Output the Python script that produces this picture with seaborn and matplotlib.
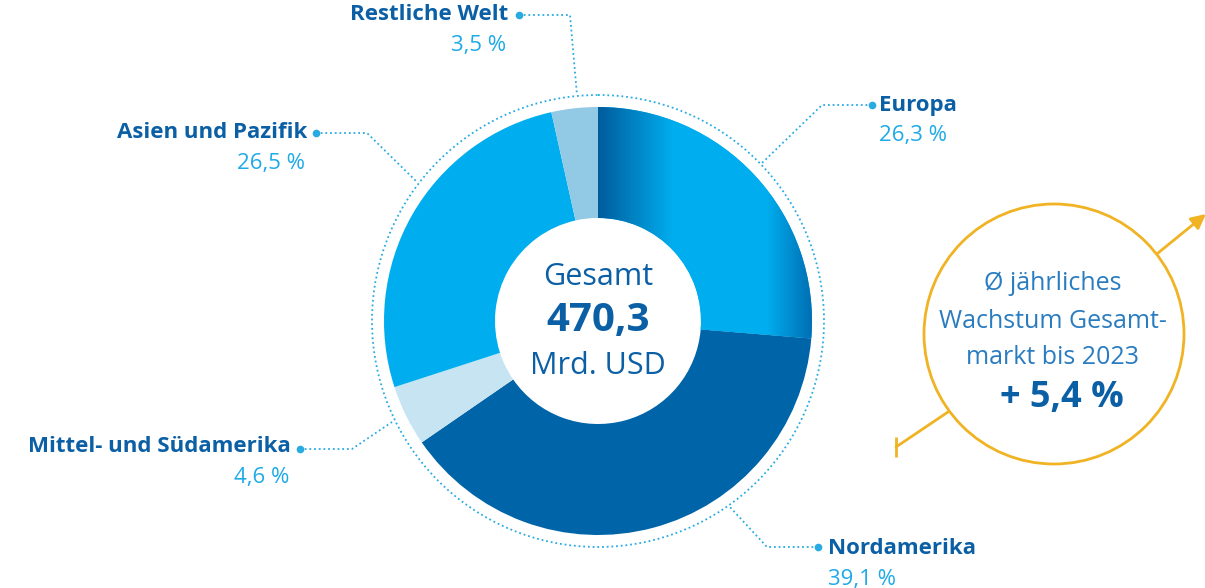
import numpy as np
import matplotlib.pyplot as plt
import seaborn as sns
from matplotlib.patches import Circle
from matplotlib.colors import LinearSegmentedColormap

# --- Daten ---
regions = ["Europa", "Nordamerika", "Mittel- und Südamerika", "Asien und Pazifik", "Restliche Welt"]
shares = [26.3, 39.1, 4.6, 26.5, 3.5]
slice_colors = ["#00aeef", "#0065a8", "#c7e4f2", "#00aeef", "#92c9e4"]
total_label = "470,3"
growth_label = "+ 5,4 %"

sns.set_theme(style="white")
plt.rcParams['font.family'] = ['Open Sans', 'DejaVu Sans']

dark = "#0b5fa5"
light = "#1eaae7"
gold = "#f0b323"

fig = plt.figure(figsize=(12.05, 5.88), dpi=100)
ax = fig.add_axes([0, 0, 1, 1])

cx, cy, r_out, r_in = 598, 321, 214, 103

# --- Donut (y-Achse invertiert -> counterclock=True läuft im Bild im Uhrzeigersinn) ---
wedges, _ = ax.pie(shares, colors=slice_colors, startangle=-90, counterclock=True,
                   center=(cx, cy), radius=r_out,
                   wedgeprops=dict(width=r_out - r_in, edgecolor='none', linewidth=0))

# Verlauf im Europa-Segment
cmap = LinearSegmentedColormap.from_list(
    "eu", [(0, "#005c9c"), (0.35, "#00aeef"), (0.78, "#00aeef"), (1, "#006db2")])
grad = np.linspace(0, 1, 256).reshape(1, -1)
im = ax.imshow(grad, extent=[cx, cx + r_out + 2, cy + 40, cy - r_out - 2],
               cmap=cmap, aspect='auto', zorder=wedges[0].get_zorder() + 0.1)
im.set_clip_path(wedges[0])

# gepunkteter Ring
ax.add_patch(Circle((cx, cy), 226, fill=False, ls=(0, (1, 1.6)), color="#29abe2", lw=1.3))

# --- Beschriftungen ---
leaders = {
    "Restliche Welt": [(519, 15), (570, 15), (577, 95)],
    "Europa": [(872, 105), (822, 105), (762, 163)],
    "Nordamerika": [(818, 547), (767, 547), (729, 506)],
    "Mittel- und Südamerika": [(300, 449), (352, 449), (392, 422)],
    "Asien und Pazifik": [(316, 133), (367, 133), (417, 182)],
}
label_pos = {
    "Restliche Welt": (508, 15, 'right'),
    "Europa": (879, 106, 'left'),
    "Nordamerika": (828, 549, 'left'),
    "Mittel- und Südamerika": (291, 447, 'right'),
    "Asien und Pazifik": (307, 133, 'right'),
}

for name, val in zip(regions, shares):
    pts = np.array(leaders[name])
    ax.plot(pts[:, 0], pts[:, 1], ls=(0, (1, 1.6)), color="#29abe2", lw=1.3)
    ax.plot(pts[0, 0], pts[0, 1], 'o', color="#29abe2", ms=4.5)
    x, y, ha = label_pos[name]
    ax.text(x, y, name, ha=ha, va='center', fontsize=16, fontweight='bold', color=dark)
    pct = f"{val:.1f}".replace('.', ',') + " %"
    ax.text(x - 2 if ha == 'right' else x, y + 30, pct, ha=ha, va='center',
            fontsize=16, color=light)

# Mitte
ax.text(cx, 277, "Gesamt", ha='center', va='center', fontsize=22, color=dark)
ax.text(cx, 320, total_label, ha='center', va='center', fontsize=29, fontweight='bold', color=dark)
ax.text(cx, 366, "Mrd. USD", ha='center', va='center', fontsize=22, color=dark)

# --- Wachstumskreis ---
ax.add_patch(Circle((1054, 334), 130, fill=False, color=gold, lw=2))
ax.plot([896, 948], [447, 412], color=gold, lw=2)
ax.plot([896], [447], marker='|', ms=14, mew=2, color=gold)
ax.annotate("", xy=(1206, 214), xytext=(1158, 253), annotation_clip=False,
            arrowprops=dict(arrowstyle='-|>', color=gold, lw=2, mutation_scale=22,
                            shrinkA=0, shrinkB=0))
ax.text(1053, 283, "Ø jährliches", ha='center', va='center', fontsize=18, color="#2a7cc0")
ax.text(1053, 321, "Wachstum Gesamt-", ha='center', va='center', fontsize=18, color="#2a7cc0")
ax.text(1053, 357, "markt bis 2023", ha='center', va='center', fontsize=18, color="#2a7cc0")
ax.text(1062, 398, growth_label, ha='center', va='center', fontsize=26, fontweight='bold', color=dark)

ax.set_xlim(0, 1205)
ax.set_ylim(588, 0)
ax.set_aspect('equal')
ax.axis('off')

plt.savefig("out.png", dpi=100)
